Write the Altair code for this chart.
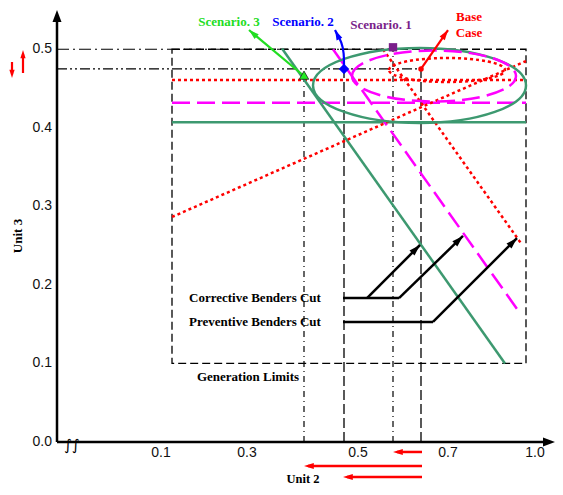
import altair as alt
import pandas as pd

# ---------------- data (schematic positions) ----------------
X_MAX, Y_MAX = 498, 0.55          # horizontal schematic units, Unit 3 value

y_ticks = [0.0, 0.1, 0.2, 0.3, 0.4, 0.5]
x_labels = ["0.1", "0.3", "0.5", "0.7", "1.0"]
x_label_pos = [104, 190, 301, 391, 478]

gen_x = [115, 469]                # generation limits box
gen_y = [0.1, 0.5]

# horizontal cut levels
h_green, h_magenta, h_red = 0.407, 0.432, 0.461

# diagonal cuts: x pair, y pair
green_dx, green_dy = [225, 448], [0.501, 0.100]
mag_dx, mag_dy = [276, 463], [0.500, 0.164]
redB_dx, redB_dy = [326, 464], [0.500, 0.253]
redA_dx, redA_dy = [115, 469], [0.2865, 0.485]

# ellipses (centres)
ell_x = [362.5, 377, 390]
ell_y = [0.454, 0.466, 0.4736]

# operating points
s3_x, s3_y = 247, 0.461
s2_x, s2_y = 287, 0.475
s1_x, s1_y = 336, 0.500
bc_x, bc_y = 364, 0.475

# scenario arrows
s3_tip = (192, 0.5245)
s2_curve_x = [287, 287, 284.7, 279.5, 278]
s2_curve_y = [0.4787, 0.4953, 0.5093, 0.5207, 0.5245]
bc_tip = (391, 0.5245)

# Benders cut annotations
corr_y, prev_y = 0.1833, 0.1528
corr_line_x = [286, 342]
prev_line_x = [286, 376]
cut_arrow_x0 = [310, 342, 376]
cut_arrow_y0 = [corr_y, corr_y, prev_y]
cut_arrow_x1 = [363, 406, 460]
cut_arrow_y1 = [0.2508, 0.2623, 0.2597]

# red change arrows below Unit 2 axis
u2_start = 365
u2_tips = [336, 247, 286]
u2_rows = [-0.0127, -0.0306, -0.0446]

# ---------------- helpers ----------------
xs = alt.Scale(domain=[0, X_MAX], nice=False, zero=False)
ys = alt.Scale(domain=[0, Y_MAX], nice=False, zero=False)
XE = lambda f="x": alt.X(f"{f}:Q", scale=xs, axis=None)
YE = lambda f="y": alt.Y(f"{f}:Q", scale=ys, axis=None)

ARROW = "M0,0L0.5,1.6L-0.5,1.6Z"
SERIF = "Liberation Serif"
SANS = "Liberation Sans"


def segs(xa, ya, xb, yb, **mk):
    df = pd.DataFrame({"x": xa, "y": ya, "x2": xb, "y2": yb})
    return alt.Chart(df).mark_rule(**mk).encode(x=XE(), y=YE(), x2="x2:Q", y2="y2:Q")


def pts(xv, yv, shape, size, color, angle=None, filled=True, **mk):
    df = pd.DataFrame({"x": xv, "y": yv})
    enc = dict(x=XE(), y=YE())
    if angle is not None:
        df["a"] = angle
        enc["angle"] = alt.Angle("a:Q", scale=None)
    return alt.Chart(df).mark_point(shape=shape, size=size, filled=filled,
                                    color=color, opacity=1, **mk).encode(**enc)


def texts(xv, yv, labels, **mk):
    df = pd.DataFrame({"x": xv, "y": yv, "t": labels})
    return alt.Chart(df).mark_text(**mk).encode(x=XE(), y=YE(), text="t:N")


def ellipse_path(e):
    k = 0.5523
    return (f"M-1,0C-1,{-k*e:.4f},{-k:.4f},{-e:.4f},0,{-e:.4f}"
            f"C{k:.4f},{-e:.4f},1,{-k*e:.4f},1,0"
            f"C1,{k*e:.4f},{k:.4f},{e:.4f},0,{e:.4f}"
            f"C{-k:.4f},{e:.4f},-1,{k*e:.4f},-1,0Z")


GREEN = "#3d9970"
MAG = "#ff00ff"
RED = "#ff0000"

layers = []

# generation limit box
box = alt.Chart(pd.DataFrame({"x": [gen_x[0]], "x2": [gen_x[1]], "y": [gen_y[0]], "y2": [gen_y[1]]})).mark_rect(
    fillOpacity=0, stroke="black", strokeWidth=1.3, strokeDash=[8, 4]).encode(x=XE(), x2="x2:Q", y=YE(), y2="y2:Q")
layers.append(box)

# reference dash-dot lines to the axis
layers.append(segs([0], [s1_y], [s1_x], [s1_y], color="black", strokeWidth=1.2, strokeDash=[12, 4, 2, 4]))
layers.append(segs([0], [bc_y], [bc_x], [bc_y], color="black", strokeWidth=1.2, strokeDash=[10, 3, 2, 3, 2, 3]))

# drop lines
layers.append(segs([s3_x, s1_x], [0, 0], [s3_x, s1_x], [s3_y, s1_y], color="black", strokeWidth=1.2, strokeDash=[6, 4, 1, 4]))
layers.append(segs([s2_x, bc_x], [0, 0], [s2_x, bc_x], [s2_y, bc_y], color="black", strokeWidth=1.3, strokeDash=[10, 4]))

# horizontal cuts
layers.append(segs([gen_x[0]], [h_green], [gen_x[1]], [h_green], color=GREEN, strokeWidth=2.5))
layers.append(segs([gen_x[0]], [h_magenta], [gen_x[1]], [h_magenta], color=MAG, strokeWidth=2.5, strokeDash=[18, 7]))
layers.append(segs([gen_x[0]], [h_red], [gen_x[1]], [h_red], color=RED, strokeWidth=2.5, strokeDash=[3, 3]))

# diagonal cuts
layers.append(segs([green_dx[0]], [green_dy[0]], [green_dx[1]], [green_dy[1]], color=GREEN, strokeWidth=2.5))
layers.append(segs([mag_dx[0]], [mag_dy[0]], [mag_dx[1]], [mag_dy[1]], color=MAG, strokeWidth=2.5, strokeDash=[18, 7]))
layers.append(segs([redB_dx[0]], [redB_dy[0]], [redB_dx[1]], [redB_dy[1]], color=RED, strokeWidth=2.5, strokeDash=[3, 3]))
layers.append(segs([redA_dx[0]], [redA_dy[0]], [redA_dx[1]], [redA_dy[1]], color=RED, strokeWidth=2.5, strokeDash=[3, 3]))

# ellipses
layers.append(pts([ell_x[0]], [ell_y[0]], ellipse_path(0.352), 213 ** 2, GREEN, filled=False, strokeWidth=2.5))
layers.append(pts([ell_x[1]], [ell_y[1]], ellipse_path(0.311), 164 ** 2, MAG, filled=False, strokeWidth=2.5, strokeDash=[18, 7]))
layers.append(pts([ell_x[2]], [ell_y[2]], ellipse_path(0.207), 116 ** 2, RED, filled=False, strokeWidth=2.5, strokeDash=[3, 3]))

# axes
layers.append(segs([0], [0], [0], [Y_MAX - 0.01], color="black", strokeWidth=2.5))
layers.append(segs([0], [0], [X_MAX - 8], [0], color="black", strokeWidth=2.5))
layers.append(pts([0], [Y_MAX], "M0,0L0.6,1.6L-0.6,1.6Z", 225, "black", angle=[0]))
layers.append(pts([X_MAX], [0], "M0,0L0.6,1.6L-0.6,1.6Z", 225, "black", angle=[90]))
layers.append(texts([-5] * len(y_ticks), y_ticks, [f"{v:.1f}" for v in y_ticks],
                    font=SANS, fontSize=14, align="right", baseline="middle", color="#111"))
layers.append(texts(x_label_pos, [-0.014] * len(x_labels), x_labels,
                    font=SANS, fontSize=14, align="center", baseline="middle", color="#111"))
layers.append(texts([15], [-0.004], ["\u222b\u222b"], font="DejaVu Sans", fontSize=15, align="center",
                    baseline="middle", color="black"))
layers.append(texts([-39], [0.2623], ["Unit 3"], font=SERIF, fontSize=13, fontWeight="bold", angle=270,
                    align="center", baseline="middle", color="black"))
layers.append(texts([246], [-0.0466], ["Unit 2"], font=SERIF, fontSize=12.5, fontWeight="bold",
                    align="center", baseline="middle", color="black"))
layers.append(texts([191], [0.0828], ["Generation Limits"], font=SERIF, fontSize=13, fontWeight="bold",
                    align="center", baseline="middle", color="black"))

# Benders cut annotations
layers.append(texts([132, 132], [corr_y, prev_y], ["Corrective Benders Cut", "Preventive Benders Cut"],
                    font=SERIF, fontSize=13, fontWeight="bold", align="left", baseline="middle", color="black"))
layers.append(segs([corr_line_x[0], prev_line_x[0]], [corr_y, prev_y], [corr_line_x[1], prev_line_x[1]], [corr_y, prev_y],
                   color="black", strokeWidth=2.5))
layers.append(segs(cut_arrow_x0, cut_arrow_y0, cut_arrow_x1, cut_arrow_y1, color="black", strokeWidth=2.5))
layers.append(pts(cut_arrow_x1, cut_arrow_y1, ARROW, 200, "black", angle=[45, 46, 45]))

# red arrows near axes
layers.append(segs([u2_start] * 3, u2_rows, [t + 4 for t in u2_tips], u2_rows, color=RED, strokeWidth=2.5))
layers.append(pts(u2_tips, u2_rows, ARROW, 150, RED, angle=[270, 270, 270]))
layers.append(segs([-45, -34], [0.4838, 0.4698], [-45, -34], [0.468, 0.494], color=RED, strokeWidth=2.2))
layers.append(pts([-45, -34], [0.4634, 0.4991], ARROW, 110, RED, angle=[180, 0]))

# scenario arrows
layers.append(segs([s3_x], [s3_y + 0.005], [s3_tip[0]], [s3_tip[1]], color="#22dd22", strokeWidth=2.2))
layers.append(pts([s3_tip[0]], [s3_tip[1]], ARROW, 160, "#22dd22", angle=[311]))
curve = pd.DataFrame({"x": s2_curve_x, "y": s2_curve_y, "o": list(range(len(s2_curve_x)))})
layers.append(alt.Chart(curve).mark_line(color="#0000ff", strokeWidth=2.2, interpolate="basis").encode(
    x=XE(), y=YE(), order="o:Q"))
layers.append(pts([s2_curve_x[-1]], [s2_curve_y[-1]], ARROW, 160, "#0000ff", angle=[334]))
layers.append(segs([bc_x], [bc_y], [bc_tip[0]], [bc_tip[1]], color=RED, strokeWidth=2.2))
layers.append(pts([bc_tip[0]], [bc_tip[1]], ARROW, 160, RED, angle=[35]))

# operating point markers
layers.append(pts([s3_x], [s3_y + 0.006], "triangle-up", 90, "#22ee22", stroke="#222", strokeWidth=0.8))
layers.append(pts([s2_x], [s2_y], "diamond", 110, "#0000ff"))
layers.append(pts([s1_x], [s1_y + 0.0025], "square", 70, "#7a1f8a"))
layers.append(pts([bc_x], [bc_y], "circle", 30, RED))

# scenario labels
lab = dict(font=SERIF, fontSize=13, fontWeight="bold", align="center", baseline="middle")
layers.append(texts([172], [0.5347], ["Scenario. 3"], color="#22dd22", **lab))
layers.append(texts([246], [0.5347], ["Scenario. 2"], color="#0000ff", **lab))
layers.append(texts([324], [0.5309], ["Scenario. 1"], color="#7a1f8a", **lab))
layers.append(texts([412, 412], [0.5411, 0.5207], ["Base", "Case"], color=RED, **lab))

chart = alt.layer(*layers).properties(
    width=X_MAX, height=432, autosize="none",
    padding={"left": 49, "top": 2, "right": 0, "bottom": 45},
).configure_view(stroke=None)

chart.save("out.html", embed_options={"renderer": "svg", "actions": False})
